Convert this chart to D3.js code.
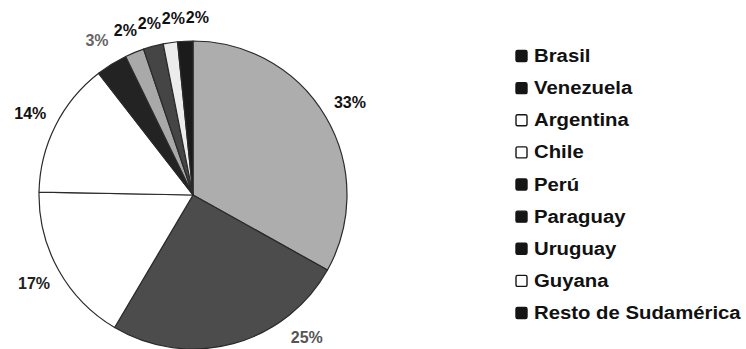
<!DOCTYPE html>
<html>
<head>
<meta charset="utf-8">
<script src="https://cdn.jsdelivr.net/npm/d3@7"></script>
<style>
  html, body { margin: 0; padding: 0; background: #fff; }
  svg { display: block; }
</style>
</head>
<body>
<svg id="chart" width="746" height="349"></svg>
<script>
// ---- data ----
const categories = ["Brasil", "Venezuela", "Argentina", "Chile", "Perú", "Paraguay", "Uruguay", "Guyana", "Resto de Sudamérica"];
const values = [33.1, 25.4, 16.8, 14.2, 3.3, 2.0, 2.1, 1.5, 1.6];
const pctLabels = ["33%", "25%", "17%", "14%", "3%", "2%", "2%", "2%", "2%"];

// ---- styles ----
const sliceColors = ["#adadad", "#4c4c4c", "#ffffff", "#ffffff", "#232323", "#a9a9a9", "#454545", "#ececec", "#1b1b1b"];
const labelColors = ["#111", "#555", "#222", "#111", "#666", "#111", "#111", "#111", "#111"];

const W = 746, H = 349;
const cx = 193, cy = 195, R = 154, labelR = 182, smallLabelR = 178;
const svg = d3.select("#chart");

const pie = d3.pie().sort(null).value(d => d)(values);
const arc = d3.arc().innerRadius(0).outerRadius(R);

const g = svg.append("g").attr("transform", `translate(${cx},${cy})`);
g.selectAll("path.slice").data(pie).join("path")
  .attr("class", "slice")
  .attr("d", arc)
  .attr("fill", (d, i) => sliceColors[i])
  .attr("stroke", "#2a2a2a")
  .attr("stroke-width", 1.2)
  .attr("stroke-linejoin", "round");

// label positions along a circle at mid-angle, kept inside the canvas
const pos = pie.map((d, i) => {
  const a = (d.startAngle + d.endAngle) / 2;
  const r = i >= 5 ? smallLabelR : labelR;
  let x = r * Math.sin(a), y = -r * Math.cos(a);
  const maxY = H - 12 - cy;
  if (y > maxY) {
    y = maxY;
    x = Math.sign(x) * Math.sqrt(r * r - y * y);
  }
  return { x, y };
});
// small slices at top: avoid overlaps horizontally
for (let i = 6; i < pos.length; i++) {
  if (pos[i].x - pos[i - 1].x < 24) pos[i].x = pos[i - 1].x + 24;
}

g.selectAll("text.pct").data(pie).join("text")
  .attr("class", "pct")
  .attr("x", (d, i) => pos[i].x)
  .attr("y", (d, i) => pos[i].y)
  .attr("text-anchor", "middle")
  .attr("dominant-baseline", "central")
  .attr("font-family", "Liberation Sans, Arial, sans-serif")
  .attr("font-weight", "bold")
  .attr("font-size", 16)
  .attr("fill", (d, i) => labelColors[i])
  .text((d, i) => pctLabels[i]);

// ---- legend ----
const legendY = d3.scalePoint().domain(categories).range([56, 313]);
const lum = c => { const r = d3.rgb(c); return (0.299 * r.r + 0.587 * r.g + 0.114 * r.b) / 255; };
const leg = svg.append("g");
const rows = leg.selectAll("g.row").data(categories).join("g")
  .attr("class", "row")
  .attr("transform", d => `translate(0,${legendY(d)})`);
rows.append("rect")
  .attr("x", 516).attr("y", -5.5).attr("width", 11).attr("height", 11)
  .attr("rx", 1.5)
  .attr("fill", (d, i) => lum(sliceColors[i]) > 0.85 ? "#fff" : "#151515")
  .attr("stroke", "#151515").attr("stroke-width", 1.4);
rows.append("text")
  .attr("transform", "translate(534,0) scale(1.13,1)")
  .attr("dominant-baseline", "central")
  .attr("font-family", "Liberation Sans, Arial, sans-serif")
  .attr("font-weight", "bold")
  .attr("font-size", 18)
  .attr("fill", "#111")
  .text(d => d);
</script>
</body>
</html>
